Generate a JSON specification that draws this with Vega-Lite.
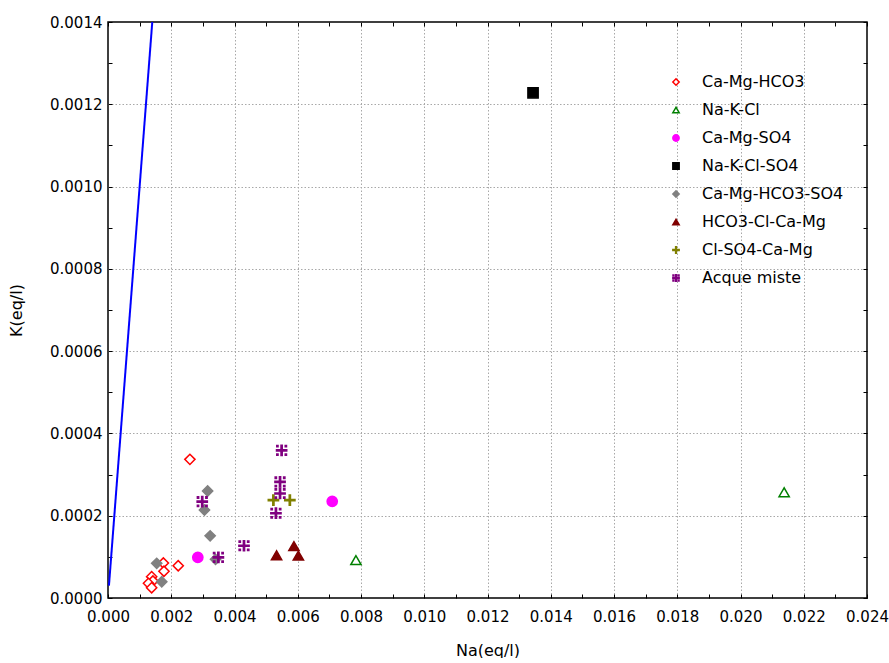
{
  "$schema": "https://vega.github.io/schema/vega-lite/v6.json",
  "width": 759,
  "height": 576,
  "padding": {"left": 8, "top": 15, "right": 0, "bottom": 0},
  "background": "white",
  "config": {
    "view": {"stroke": "black", "strokeWidth": 1.5},
    "font": "DejaVu Sans",
    "axis": {
      "domain": false,
      "tickColor": "black",
      "tickSize": -4,
      "tickWidth": 1,
      "labelFlush": false,
      "labelOverlap": false,
      "labelFont": "DejaVu Sans",
      "labelFontSize": 15,
      "labelColor": "black",
      "titleFont": "DejaVu Sans",
      "titleFontSize": 16,
      "titleFontWeight": "normal",
      "titleColor": "black",
      "gridColor": "#a8a8a8",
      "gridDash": [1.5, 2],
      "gridWidth": 1
    },
    "legend": {
      "labelFont": "DejaVu Sans",
      "labelFontSize": 16,
      "labelColor": "black",
      "labelOffset": 18,
      "rowPadding": 12,
      "symbolSize": 40,
      "symbolStrokeWidth": 1.5
    }
  },
  "datasets": {
    "samples": [
      {"tipo": "Ca-Mg-HCO3", "Na": 0.00259, "K": 0.000337},
      {"tipo": "Ca-Mg-HCO3", "Na": 0.00222, "K": 0.0000784},
      {"tipo": "Ca-Mg-HCO3", "Na": 0.00175, "K": 0.000085},
      {"tipo": "Ca-Mg-HCO3", "Na": 0.00177, "K": 0.000065},
      {"tipo": "Ca-Mg-HCO3", "Na": 0.00138, "K": 0.0000518},
      {"tipo": "Ca-Mg-HCO3", "Na": 0.00142, "K": 0.0000413},
      {"tipo": "Ca-Mg-HCO3", "Na": 0.00128, "K": 0.0000357},
      {"tipo": "Ca-Mg-HCO3", "Na": 0.00138, "K": 0.000025},
      {"tipo": "Na-K-Cl", "Na": 0.00784, "K": 0.0000922},
      {"tipo": "Na-K-Cl", "Na": 0.02138, "K": 0.000257},
      {"tipo": "Ca-Mg-SO4", "Na": 0.00284, "K": 0.0000988},
      {"tipo": "Ca-Mg-SO4", "Na": 0.00709, "K": 0.000235},
      {"tipo": "Na-K-Cl-SO4", "Na": 0.01344, "K": 0.001228},
      {"tipo": "Ca-Mg-HCO3-SO4", "Na": 0.00315, "K": 0.00026},
      {"tipo": "Ca-Mg-HCO3-SO4", "Na": 0.00305, "K": 0.000214},
      {"tipo": "Ca-Mg-HCO3-SO4", "Na": 0.00323, "K": 0.000151},
      {"tipo": "Ca-Mg-HCO3-SO4", "Na": 0.00154, "K": 0.0000842},
      {"tipo": "Ca-Mg-HCO3-SO4", "Na": 0.0017, "K": 0.0000396},
      {"tipo": "Ca-Mg-HCO3-SO4", "Na": 0.0034, "K": 0.000094},
      {"tipo": "HCO3-Cl-Ca-Mg", "Na": 0.00533, "K": 0.000104},
      {"tipo": "HCO3-Cl-Ca-Mg", "Na": 0.00588, "K": 0.000126},
      {"tipo": "HCO3-Cl-Ca-Mg", "Na": 0.00602, "K": 0.000103},
      {"tipo": "Cl-SO4-Ca-Mg", "Na": 0.00523, "K": 0.000238},
      {"tipo": "Cl-SO4-Ca-Mg", "Na": 0.00575, "K": 0.000238},
      {"tipo": "Acque miste", "Na": 0.00549, "K": 0.000359},
      {"tipo": "Acque miste", "Na": 0.00544, "K": 0.000282},
      {"tipo": "Acque miste", "Na": 0.00544, "K": 0.000254},
      {"tipo": "Acque miste", "Na": 0.00531, "K": 0.000206},
      {"tipo": "Acque miste", "Na": 0.0043, "K": 0.000127},
      {"tipo": "Acque miste", "Na": 0.00298, "K": 0.000234},
      {"tipo": "Acque miste", "Na": 0.00349, "K": 0.0000988}
    ],
    "retta": [
      {"Na": 0.00003, "K": 0.00003},
      {"Na": 0.0014, "K": 0.0014}
    ]
  },
  "layer": [
    {
      "data": {"name": "retta"},
      "mark": {"type": "line", "color": "#0000ff", "strokeWidth": 2, "clip": true},
      "encoding": {
        "x": {
          "field": "Na", "type": "quantitative",
          "scale": {"domain": [0, 0.024], "nice": false, "zero": false},
          "axis": {
            "orient": "top", "title": null, "labels": false, "grid": false,
            "values": [0,0.001,0.002,0.003,0.004,0.005,0.006,0.007,0.008,0.009,0.01,0.011,0.012,0.013,0.014,0.015,0.016,0.017,0.018,0.019,0.02,0.021,0.022,0.023,0.024]
          }
        },
        "y": {
          "field": "K", "type": "quantitative",
          "scale": {"domain": [0, 0.0014], "nice": false, "zero": false},
          "axis": {
            "orient": "right", "title": null, "labels": false, "grid": false,
            "values": [0,0.0001,0.0002,0.0003,0.0004,0.0005,0.0006,0.0007,0.0008,0.0009,0.001,0.0011,0.0012,0.0013,0.0014]
          }
        }
      }
    },
    {
      "data": {"name": "samples"},
      "mark": {"type": "point", "size": 105, "strokeWidth": 1.5, "opacity": 1},
      "encoding": {
        "x": {
          "field": "Na", "type": "quantitative",
          "scale": {"domain": [0, 0.024], "nice": false, "zero": false},
          "axis": {
            "orient": "bottom", "title": "Na(eq/l)", "grid": true,
            "values": [0,0.001,0.002,0.003,0.004,0.005,0.006,0.007,0.008,0.009,0.01,0.011,0.012,0.013,0.014,0.015,0.016,0.017,0.018,0.019,0.02,0.021,0.022,0.023,0.024],
            "labelExpr": "round(datum.value*1000)%2==0 ? format(datum.value,'.3f') : ''",
            "labelPadding": 15,
            "titlePadding": 18,
            "gridOpacity": {"condition": {"test": "round(datum.value*1000)%2==0 && datum.value>0 && datum.value<0.024", "value": 1}, "value": 0}
          }
        },
        "y": {
          "field": "K", "type": "quantitative",
          "scale": {"domain": [0, 0.0014], "nice": false, "zero": false},
          "axis": {
            "orient": "left", "title": "K(eq/l)", "grid": true,
            "values": [0,0.0001,0.0002,0.0003,0.0004,0.0005,0.0006,0.0007,0.0008,0.0009,0.001,0.0011,0.0012,0.0013,0.0014],
            "labelExpr": "round(datum.value*10000)%2==0 ? format(datum.value,'.4f') : ''",
            "labelPadding": 10,
            "titlePadding": 25,
            "gridOpacity": {"condition": {"test": "round(datum.value*10000)%2==0 && datum.value>0 && datum.value<0.0014", "value": 1}, "value": 0}
          }
        },
        "shape": {
          "field": "tipo", "type": "nominal",
          "scale": {
            "domain": ["Ca-Mg-HCO3","Na-K-Cl","Ca-Mg-SO4","Na-K-Cl-SO4","Ca-Mg-HCO3-SO4","HCO3-Cl-Ca-Mg","Cl-SO4-Ca-Mg","Acque miste"],
            "range": ["diamond","triangle-up","circle","square","diamond","triangle-up","M-0.12,-1H0.12V-0.12H1V0.12H0.12V1H-0.12V0.12H-1V-0.12H-0.12Z","M-0.12,-1H0.12V-0.12H1V0.12H0.12V1H-0.12V0.12H-1V-0.12H-0.12Z M-0.95,-0.95H-0.7V-0.7H-0.95Z M0.7,-0.95H0.95V-0.7H0.7Z M-0.95,0.7H-0.7V0.95H-0.95Z M0.7,0.7H0.95V0.95H0.7Z"]
          },
          "legend": {"title": null, "orient": "none", "legendX": 560, "legendY": 52}
        },
        "stroke": {
          "field": "tipo", "type": "nominal",
          "scale": {
            "domain": ["Ca-Mg-HCO3","Na-K-Cl","Ca-Mg-SO4","Na-K-Cl-SO4","Ca-Mg-HCO3-SO4","HCO3-Cl-Ca-Mg","Cl-SO4-Ca-Mg","Acque miste"],
            "range": ["#ff0000","#008000","#ff00ff","#000000","#808080","#800000","#808000","#800080"]
          },
          "legend": {"title": null, "orient": "none", "legendX": 560, "legendY": 52}
        },
        "fill": {
          "field": "tipo", "type": "nominal",
          "scale": {
            "domain": ["Ca-Mg-HCO3","Na-K-Cl","Ca-Mg-SO4","Na-K-Cl-SO4","Ca-Mg-HCO3-SO4","HCO3-Cl-Ca-Mg","Cl-SO4-Ca-Mg","Acque miste"],
            "range": ["#ffffff","#ffffff","#ff00ff","#000000","#808080","#800000","#808000","#800080"]
          },
          "legend": {"title": null, "orient": "none", "legendX": 560, "legendY": 52}
        }
      }
    }
  ],
  "resolve": {"axis": {"x": "independent", "y": "independent"}}
}
